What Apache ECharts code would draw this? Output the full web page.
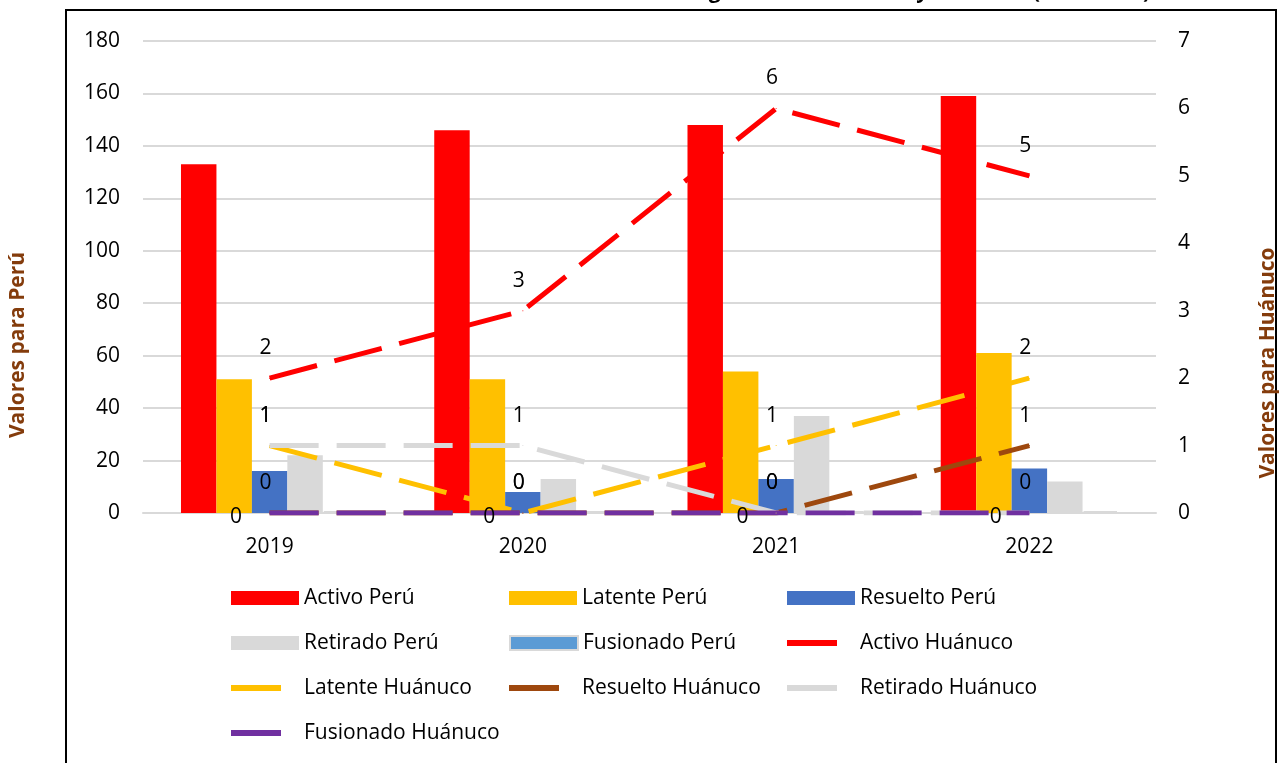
<!DOCTYPE html>
<html><head><meta charset="utf-8">
<script src="https://cdn.jsdelivr.net/npm/echarts@6/dist/echarts.min.js"></script>
<style>html,body{margin:0;padding:0;background:#fff}#c{width:1285px;height:763px}</style>
</head><body><div id="c"></div><script>
// ---- data ----
const years = ['2019', '2020', '2021', '2022'];
const activoPeru = [133, 146, 148, 159];
const latentePeru = [51, 51, 54, 61];
const resueltoPeru = [16, 8, 13, 17];
const retiradoPeru = [22, 13, 37, 12];
const fusionadoPeru = [0, 0, 0, 0];
const activoHco = [2, 3, 6, 5];
const latenteHco = [1, 0, 1, 2];
const resueltoHco = [0, 0, 0, 1];
const retiradoHco = [1, 1, 0, 0];
const fusionadoHco = [0, 0, 0, 0];
const leftAxis = {min: 0, max: 180, interval: 20};
const rightAxis = {min: 0, max: 7, interval: 1};
const titleText = 'Evolución de conflictos sociales según estado en Perú y Huánuco (2019-2022)';
const leftTitle = 'Valores para Perú';
const rightTitle = 'Valores para Huánuco';

// ---- styles ----
const FONT = "'Open Sans', 'Noto Sans', sans-serif";
const FS = 21;
const C = {
  activo: '#FF0000', latente: '#FFC000', resuelto: '#4472C4', retirado: '#D9D9D9',
  fusionado: '#5B9BD5', resueltoH: '#9E480E', fusionadoH: '#7030A0'
};
const DASH = [49, 18];

function bar(name, data, color, extra) {
  return Object.assign({
    name, type: 'bar', data, yAxisIndex: 0, barGap: '0%', barCategoryGap: '30%',
    itemStyle: {color}, z: 2
  }, extra || {});
}
function line(name, data, color, labelPos) {
  const label = labelPos === 'left'
    ? {show: true, position: 'left', distance: 27, offset: [0, 4], fontSize: FS, fontFamily: FONT, color: '#000'}
    : {show: true, position: 'top', distance: 19, offset: [-4, 0], fontSize: FS, fontFamily: FONT, color: '#000'};
  return {
    name, type: 'line', data, yAxisIndex: 1, symbol: 'circle', symbolSize: 1, showSymbol: true,
    itemStyle: {color}, lineStyle: {color, width: 5, type: DASH, cap: 'butt'},
    label, z: 5, animation: false
  };
}

const series = [
  bar('Activo Perú', activoPeru, C.activo),
  bar('Latente Perú', latentePeru, C.latente),
  bar('Resuelto Perú', resueltoPeru, C.resuelto),
  bar('Retirado Perú', retiradoPeru, C.retirado),
  bar('Fusionado Perú', fusionadoPeru, C.fusionado, {barMinHeight: 2, itemStyle: {color: C.fusionado, borderColor: '#D9D9D9', borderWidth: 2}}),
  line('Activo Huánuco', activoHco, C.activo),
  line('Latente Huánuco', latenteHco, C.latente),
  line('Resuelto Huánuco', resueltoHco, C.resueltoH),
  line('Retirado Huánuco', retiradoHco, C.retirado),
  line('Fusionado Huánuco', fusionadoHco, C.fusionadoH, 'left')
];

// legend layout: 3 columns x 4 rows
const legCols = [231, 509, 787];
const legRows = [598, 643, 688, 733];
const LINE_ICON = 'path://M0,0H50V6H0Z M68,0L68,6';
const legends = series.map((s, i) => {
  const col = i % 3, row = Math.floor(i / 3);
  const isLine = s.type === 'line';
  return {
    data: [{name: s.name, icon: isLine ? LINE_ICON : 'rect', itemStyle: {color: s.itemStyle.color, opacity: 1}}],
    left: legCols[col], top: legRows[row] - 12, padding: 0,
    itemWidth: 68, itemHeight: isLine ? 6 : 14, itemGap: 0,
    textStyle: {fontSize: FS, fontFamily: FONT, color: '#000', lineHeight: 24},
    selectedMode: false
  };
});

const chart = echarts.init(document.getElementById('c'), null, {renderer: 'canvas'});
chart.setOption({
  animation: false,
  backgroundColor: '#fff',
  grid: {left: 143, right: 129, top: 41, bottom: 250},
  legend: legends,
  xAxis: {
    type: 'category', data: years,
    axisTick: {show: false},
    axisLine: {lineStyle: {color: '#D9D9D9', width: 2}},
    axisLabel: {fontSize: FS, fontFamily: FONT, color: '#000', margin: 24}
  },
  yAxis: [
    {type: 'value', min: leftAxis.min, max: leftAxis.max, interval: leftAxis.interval,
     axisLine: {show: false}, axisTick: {show: false},
     axisLabel: {fontSize: FS, fontFamily: FONT, color: '#000', margin: 23},
     splitLine: {lineStyle: {color: '#D9D9D9', width: 2}}},
    {type: 'value', min: rightAxis.min, max: rightAxis.max, interval: rightAxis.interval,
     axisLine: {show: false}, axisTick: {show: false},
     axisLabel: {fontSize: FS, fontFamily: FONT, color: '#000', margin: 22},
     splitLine: {show: false}}
  ],
  series,
  graphic: [
    {type: 'rect', shape: {x: 66, y: 10, width: 1210, height: 800}, style: {fill: 'none', stroke: '#000', lineWidth: 2}, z: 100},
    {type: 'text', x: 1150, y: 3, style: {text: titleText, fontSize: 21, fontWeight: 'bold', fontFamily: FONT, fill: '#000', align: 'right', verticalAlign: 'bottom'}, z: 100},
    {type: 'text', x: 18, y: 345, rotation: Math.PI / 2,
     style: {text: leftTitle, fontSize: 21, fontWeight: 'bold', fontFamily: FONT, fill: '#843C0C', align: 'center', verticalAlign: 'middle'}, z: 100},
    {type: 'text', x: 1268, y: 363, rotation: Math.PI / 2,
     style: {text: rightTitle, fontSize: 21, fontWeight: 'bold', fontFamily: FONT, fill: '#843C0C', align: 'center', verticalAlign: 'middle'}, z: 100}
  ]
});
</script></body></html>
